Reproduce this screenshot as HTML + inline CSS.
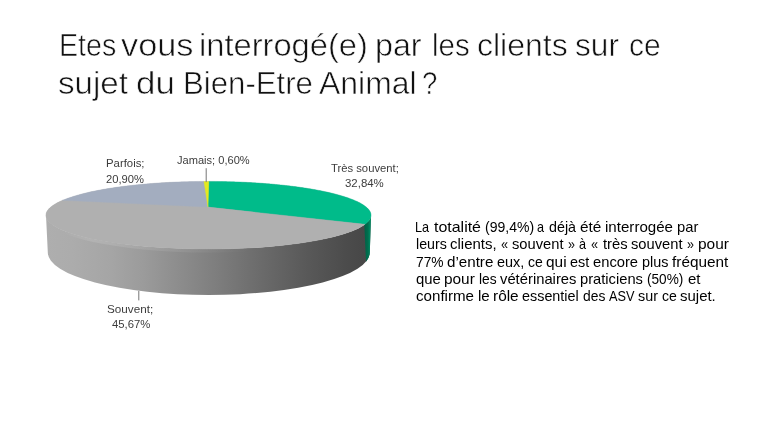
<!DOCTYPE html>
<html lang="fr"><head><meta charset="utf-8"><title>Etes vous interrogé(e) par les clients sur ce sujet du Bien-Etre Animal ?</title>
<style>
html,body{margin:0;padding:0;background:#fff;}
body{width:768px;height:432px;position:relative;overflow:hidden;font-family:'Liberation Sans', sans-serif;}
.g{position:absolute;left:0;top:0;margin:0;padding:0;font-weight:normal;}
.t{position:absolute;white-space:nowrap;transform-origin:0 0;margin:0;padding:0;}
.ti{font-size:31.3px;line-height:37.56px;color:#111;-webkit-text-stroke:0.6px #fff;}
.pa{font-size:14.4px;line-height:17.28px;color:#000;}
.la{font-size:11.5px;line-height:13.8px;color:#3c3c3c;}
</style></head><body>
<svg width="768" height="432" viewBox="0 0 768 432" style="position:absolute;left:0;top:0">
<defs><linearGradient id="gs" gradientUnits="userSpaceOnUse" x1="46" y1="0" x2="371" y2="0"><stop offset="0" stop-color="#aeaeae"/><stop offset="0.08" stop-color="#acacac"/><stop offset="0.2" stop-color="#a5a5a5"/><stop offset="0.3" stop-color="#9b9b9b"/><stop offset="0.39" stop-color="#8f8f8f"/><stop offset="0.53" stop-color="#7d7d7d"/><stop offset="0.66" stop-color="#6b6b6b"/><stop offset="0.8" stop-color="#595959"/><stop offset="0.93" stop-color="#4b4b4b"/><stop offset="1" stop-color="#464646"/></linearGradient><linearGradient id="gg" gradientUnits="userSpaceOnUse" x1="364" y1="0" x2="370.5" y2="0"><stop offset="0" stop-color="#006045"/><stop offset="0.6" stop-color="#006e4e"/><stop offset="1" stop-color="#009066"/></linearGradient><linearGradient id="gh" gradientUnits="userSpaceOnUse" x1="64" y1="0" x2="250" y2="0"><stop offset="0" stop-color="#fff" stop-opacity="0"/><stop offset="0.15" stop-color="#fff" stop-opacity="0.12"/><stop offset="0.6" stop-color="#fff" stop-opacity="0.08"/><stop offset="1" stop-color="#fff" stop-opacity="0"/></linearGradient></defs>
<path d="M46.00,215.20 L47.80,252.40 A161.00,42.60 0 0 0 369.80,252.40 L371.00,215.20 A162.50,33.80 0 0 1 46.00,215.20 Z" fill="url(#gs)"/>
<path d="M64.00,229.70 A162.50,33.80 0 0 0 248.50,248.00" fill="none" stroke="url(#gh)" stroke-width="3" transform="translate(0,2)"/>
<path d="M364.30,224.00 A162.50,33.80 0 0 0 371.00,215.20 L369.80,252.40 A161.00,42.60 0 0 1 366.00,261.70 Z" fill="url(#gg)"/>
<ellipse cx="208.50" cy="215.20" rx="162.50" ry="33.80" fill="#b0b0b0"/>
<path d="M208.00,207.10 L208.78,181.40 210.11,181.40 211.44,181.41 212.78,181.41 214.11,181.42 215.44,181.43 216.78,181.45 218.11,181.46 219.44,181.48 220.77,181.50 222.10,181.53 223.43,181.55 224.76,181.58 226.09,181.61 227.42,181.64 228.75,181.67 230.08,181.71 231.40,181.75 232.73,181.79 234.05,181.83 235.38,181.88 236.70,181.93 238.02,181.98 239.34,182.03 240.65,182.09 241.97,182.14 243.29,182.20 244.60,182.26 245.91,182.33 247.22,182.39 248.53,182.46 249.83,182.53 251.14,182.61 252.44,182.68 253.74,182.76 255.04,182.84 256.33,182.92 257.63,183.01 258.92,183.09 260.21,183.18 261.50,183.28 262.78,183.37 264.06,183.47 265.34,183.56 266.61,183.66 267.89,183.77 269.16,183.87 270.42,183.98 271.69,184.09 272.95,184.20 274.21,184.32 275.46,184.43 276.71,184.55 277.96,184.68 279.20,184.80 280.44,184.93 281.68,185.05 282.91,185.18 284.14,185.32 285.36,185.45 286.58,185.59 287.80,185.73 289.01,185.87 290.22,186.02 291.42,186.17 292.62,186.32 293.82,186.47 295.01,186.62 296.19,186.78 297.37,186.94 298.55,187.10 299.72,187.26 300.88,187.43 302.04,187.59 303.20,187.77 304.34,187.94 305.49,188.11 306.63,188.29 307.76,188.47 308.88,188.65 310.00,188.84 311.12,189.02 312.23,189.21 313.33,189.40 314.42,189.60 315.51,189.79 316.59,189.99 317.67,190.19 318.74,190.40 319.80,190.60 320.85,190.81 321.90,191.02 322.94,191.23 323.98,191.45 325.00,191.66 326.02,191.88 327.03,192.10 328.03,192.33 329.03,192.55 330.01,192.78 330.99,193.01 331.96,193.24 332.93,193.48 333.88,193.72 334.82,193.96 335.76,194.20 336.69,194.44 337.60,194.69 338.51,194.94 339.41,195.19 340.30,195.44 341.18,195.70 342.05,195.96 342.91,196.22 343.76,196.48 344.60,196.74 345.43,197.01 346.25,197.28 347.06,197.55 347.86,197.82 348.65,198.10 349.43,198.38 350.19,198.65 350.95,198.94 351.69,199.22 352.42,199.51 353.14,199.79 353.85,200.08 354.55,200.38 355.23,200.67 355.91,200.97 356.56,201.27 357.21,201.57 357.85,201.87 358.47,202.17 359.08,202.48 359.67,202.79 360.25,203.10 360.82,203.41 361.38,203.72 361.92,204.04 362.44,204.36 362.96,204.68 363.46,205.00 363.94,205.32 364.41,205.65 364.86,205.97 365.31,206.30 365.73,206.63 366.14,206.97 366.53,207.30 366.91,207.64 367.28,207.97 367.62,208.31 367.96,208.65 368.27,208.99 368.57,209.34 368.85,209.68 369.12,210.03 369.37,210.38 369.60,210.73 369.81,211.08 370.01,211.43 370.19,211.78 370.35,212.14 370.50,212.49 370.63,212.85 370.74,213.21 370.83,213.57 370.90,213.93 370.95,214.29 370.99,214.65 371.00,215.02 371.00,215.38 370.98,215.75 370.94,216.11 370.88,216.48 370.80,216.85 370.70,217.22 370.58,217.59 370.44,217.96 370.28,218.33 370.11,218.70 369.91,219.07 369.69,219.44 369.45,219.81 369.18,220.19 368.90,220.56 368.60,220.94 368.27,221.31 367.93,221.68 367.56,222.06 367.18,222.43 366.77,222.81 366.34,223.18 365.88,223.56 365.41,223.93 364.91,224.30Z" fill="#00bb8a" stroke="#00bb8a" stroke-width="0.4"/>
<path d="M208.00,207.10 L364.91,224.30 364.39,224.68 363.85,225.05 363.29,225.43 362.70,225.80 362.09,226.17 361.46,226.55 360.80,226.92 360.13,227.29 359.43,227.66 358.70,228.03 357.96,228.40 357.19,228.77 356.40,229.13 355.59,229.50 354.75,229.86 353.89,230.23 353.01,230.59 352.10,230.95 351.18,231.31 350.22,231.67 349.25,232.02 348.25,232.38 347.23,232.73 346.19,233.08 345.13,233.43 344.04,233.78 342.93,234.12 341.79,234.46 340.64,234.81 339.46,235.14 338.26,235.48 337.03,235.81 335.79,236.14 334.52,236.47 333.23,236.80 331.91,237.12 330.58,237.44 329.22,237.76 327.84,238.07 326.44,238.39 325.02,238.69 323.58,239.00 322.12,239.30 320.63,239.60 319.13,239.90 317.60,240.19 316.06,240.48 314.49,240.76 312.90,241.04 311.30,241.32 309.67,241.59 308.03,241.86 306.36,242.13 304.68,242.39 302.98,242.64 301.26,242.90 299.52,243.15 297.76,243.39 295.99,243.63 294.20,243.87 292.39,244.10 290.56,244.32 288.72,244.55 286.87,244.76 284.99,244.97 283.10,245.18 281.20,245.38 279.28,245.58 277.35,245.77 275.40,245.96 273.44,246.14 271.47,246.32 269.48,246.49 267.48,246.66 265.47,246.82 263.45,246.97 261.41,247.12 259.36,247.27 257.31,247.41 255.24,247.54 253.16,247.67 251.08,247.79 248.98,247.91 246.88,248.02 244.77,248.12 242.65,248.22 240.52,248.32 238.39,248.40 236.25,248.48 234.10,248.56 231.95,248.63 229.79,248.69 227.63,248.75 225.47,248.80 223.30,248.85 221.13,248.89 218.95,248.92 216.78,248.95 214.60,248.97 212.42,248.99 210.24,249.00 208.06,249.00 205.87,249.00 203.69,248.99 201.51,248.97 199.34,248.95 197.16,248.92 194.99,248.89 192.82,248.85 190.65,248.81 188.49,248.75 186.33,248.70 184.17,248.63 182.02,248.56 179.88,248.49 177.74,248.41 175.61,248.32 173.49,248.23 171.37,248.13 169.26,248.02 167.16,247.91 165.07,247.80 162.99,247.68 160.92,247.55 158.85,247.41 156.80,247.28 154.76,247.13 152.73,246.98 150.71,246.83 148.71,246.67 146.71,246.50 144.73,246.33 142.76,246.15 140.81,245.97 138.87,245.78 136.94,245.59 135.03,245.39 133.13,245.19 131.25,244.98 129.38,244.77 127.53,244.56 125.70,244.33 123.88,244.11 122.08,243.88 120.29,243.64 118.53,243.40 116.78,243.16 115.05,242.91 113.34,242.66 111.64,242.40 109.97,242.14 108.31,241.87 106.67,241.61 105.06,241.33 103.46,241.06 101.88,240.77 100.32,240.49 98.78,240.20 97.27,239.91 95.77,239.62 94.29,239.32 92.84,239.01 91.41,238.71 89.99,238.40 88.60,238.09 87.24,237.78 85.89,237.46 84.56,237.14 83.26,236.82 81.98,236.49 80.72,236.16 79.48,235.83 78.27,235.50 77.07,235.16 75.90,234.82 74.76,234.48 73.63,234.14 72.53,233.79 71.45,233.45 70.40,233.10 69.36,232.75 68.35,232.40 67.36,232.04 66.40,231.69 65.46,231.33 64.54,230.97 63.64,230.61 62.77,230.25 61.92,229.88 61.09,229.52 60.29,229.15 59.51,228.79 58.75,228.42 58.01,228.05 57.30,227.68 56.61,227.31 55.94,226.94 55.29,226.57 54.67,226.19 54.07,225.82 53.49,225.45 52.93,225.07 52.40,224.70 51.88,224.32 51.39,223.95 50.93,223.57 50.48,223.20 50.05,222.82 49.65,222.44 49.27,222.07 48.91,221.69 48.57,221.32 48.25,220.94 47.96,220.57 47.68,220.19 47.42,219.82 47.19,219.44 46.98,219.07 46.78,218.70 46.61,218.32 46.46,217.95 46.32,217.58 46.21,217.21 46.12,216.84 46.04,216.47 45.99,216.10 45.95,215.73 45.94,215.37 45.94,215.00 45.96,214.64 46.00,214.27 46.06,213.91 46.14,213.55 46.24,213.19 46.35,212.83 46.48,212.47 46.63,212.11 46.80,211.76 46.99,211.40 47.19,211.05 47.41,210.70 47.64,210.35 47.90,210.00 48.17,209.65 48.45,209.30 48.76,208.96 49.08,208.62 49.41,208.28 49.76,207.94 50.13,207.60 50.51,207.26 50.91,206.93 51.32,206.59 51.75,206.26 52.19,205.93 52.65,205.60 53.12,205.28 53.61,204.95 54.11,204.63 54.62,204.31 55.15,203.99 55.70,203.68 56.25,203.36 56.82,203.05 57.41,202.74 58.00,202.43 58.61,202.12 59.23,201.82 59.87,201.51 60.52,201.21 61.18,200.91 61.85,200.62 62.53,200.32Z" fill="#b0b0b0" stroke="#b0b0b0" stroke-width="0.4"/>
<path d="M208.00,207.10 L62.53,200.32 63.23,200.03 63.94,199.74 64.66,199.45 65.39,199.16 66.13,198.88 66.88,198.60 67.65,198.32 68.43,198.04 69.21,197.76 70.01,197.49 70.82,197.22 71.64,196.95 72.46,196.68 73.30,196.42 74.15,196.15 75.01,195.89 75.88,195.64 76.75,195.38 77.64,195.13 78.54,194.88 79.44,194.63 80.36,194.38 81.28,194.14 82.21,193.89 83.16,193.65 84.10,193.42 85.06,193.18 86.03,192.95 87.00,192.72 87.99,192.49 88.98,192.26 89.98,192.04 90.98,191.82 92.00,191.60 93.02,191.38 94.05,191.17 95.08,190.95 96.13,190.74 97.18,190.54 98.23,190.33 99.30,190.13 100.37,189.93 101.45,189.73 102.53,189.53 103.62,189.34 104.72,189.15 105.82,188.96 106.93,188.77 108.04,188.59 109.16,188.41 110.29,188.23 111.42,188.05 112.56,187.88 113.71,187.70 114.85,187.53 116.01,187.37 117.17,187.20 118.33,187.04 119.50,186.88 120.68,186.72 121.86,186.56 123.04,186.41 124.23,186.26 125.43,186.11 126.62,185.96 127.83,185.82 129.03,185.68 130.25,185.54 131.46,185.40 132.68,185.26 133.91,185.13 135.13,185.00 136.37,184.87 137.60,184.75 138.84,184.62 140.08,184.50 141.33,184.38 142.58,184.27 143.83,184.15 145.09,184.04 146.35,183.93 147.62,183.83 148.88,183.72 150.15,183.62 151.42,183.52 152.70,183.42 153.98,183.33 155.26,183.23 156.54,183.14 157.83,183.05 159.12,182.97 160.41,182.88 161.70,182.80 163.00,182.72 164.30,182.65 165.60,182.57 166.90,182.50 168.20,182.43 169.51,182.36 170.82,182.30 172.13,182.23 173.44,182.17 174.76,182.11 176.07,182.06 177.39,182.00 178.71,181.95 180.03,181.90 181.35,181.86 182.67,181.81 184.00,181.77 185.32,181.73 186.65,181.69 187.98,181.66 189.31,181.62 190.64,181.59 191.97,181.56 193.30,181.54 194.63,181.51 195.97,181.49 197.30,181.47 198.64,181.45 199.97,181.44 201.31,181.43 202.64,181.42 203.98,181.41Z" fill="#a3adbf" stroke="#a3adbf" stroke-width="0.4"/>
<path d="M208.00,207.10 L203.98,181.41 205.18,181.40 206.38,181.40 207.58,181.40 208.78,181.40Z" fill="#e4ea1e" stroke="#e4ea1e" stroke-width="0.4"/>
<path d="M206.2,168.2 V182.1 M138.8,290.9 V300.4" stroke="#767676" stroke-width="1" fill="none"/>
</svg>
<h1 class="g ti">
<span class="t" style="left:58.95px;top:27px;transform:scaleX(0.9135)">Etes</span> 
<span class="t" style="left:121.49px;top:27px;transform:scaleX(1.0953)">vous</span> 
<span class="t" style="left:199.28px;top:27px;transform:scaleX(1.0437)">interrogé(e)</span> 
<span class="t" style="left:374.99px;top:27px;transform:scaleX(1.0299)">par</span> 
<span class="t" style="left:432.19px;top:27px;transform:scaleX(0.9416)">les</span> 
<span class="t" style="left:477.23px;top:27px;transform:scaleX(1.0225)">clients</span> 
<span class="t" style="left:575.09px;top:27px;transform:scaleX(1.0102)">sur</span> 
<span class="t" style="left:629.38px;top:27px;transform:scaleX(0.9550)">ce</span> 
<span class="t" style="left:58.10px;top:65px;transform:scaleX(1.0586)">sujet</span> 
<span class="t" style="left:135.69px;top:65px;transform:scaleX(1.1155)">du</span> 
<span class="t" style="left:182.64px;top:65px;transform:scaleX(0.9962)">Bien-Etre</span> 
<span class="t" style="left:319.15px;top:65px;transform:scaleX(1.0201)">Animal</span> 
<span class="t" style="left:422.40px;top:65px;transform:scaleX(0.8800)">?</span> 
</h1>
<p class="g pa">
<span class="t" style="left:415.40px;top:219px;transform:scaleX(0.8800)">La</span> 
<span class="t" style="left:433.66px;top:219px;transform:scaleX(1.1084)">totalité</span> 
<span class="t" style="left:484.53px;top:219px;transform:scaleX(0.9744)">(99,4%)</span> 
<span class="t" style="left:537.36px;top:219px;transform:scaleX(0.8800)">a</span> 
<span class="t" style="left:548.85px;top:219px;transform:scaleX(0.9933)">déjà</span> 
<span class="t" style="left:580.41px;top:219px;transform:scaleX(1.0693)">été</span> 
<span class="t" style="left:604.95px;top:219px;transform:scaleX(1.0497)">interrogée</span> 
<span class="t" style="left:676.98px;top:219px;transform:scaleX(1.0255)">par</span> 
<span class="t" style="left:415.53px;top:236px;transform:scaleX(0.9914)">leurs</span> 
<span class="t" style="left:450.47px;top:236px;transform:scaleX(1.0405)">clients,</span> 
<span class="t" style="left:500.91px;top:236px;transform:scaleX(0.8800)">«</span> 
<span class="t" style="left:512.14px;top:236px;transform:scaleX(1.0219)">souvent</span> 
<span class="t" style="left:568.22px;top:236px;transform:scaleX(0.8800)">»</span> 
<span class="t" style="left:579.06px;top:236px;transform:scaleX(0.8800)">à</span> 
<span class="t" style="left:591.26px;top:236px;transform:scaleX(0.8800)">«</span> 
<span class="t" style="left:602.68px;top:236px;transform:scaleX(1.0271)">très</span> 
<span class="t" style="left:631.33px;top:236px;transform:scaleX(1.0219)">souvent</span> 
<span class="t" style="left:687.35px;top:236px;transform:scaleX(0.8800)">»</span> 
<span class="t" style="left:698.38px;top:236px;transform:scaleX(1.0745)">pour</span> 
<span class="t" style="left:415.51px;top:254px;transform:scaleX(0.9565)">77%</span> 
<span class="t" style="left:447.25px;top:254px;transform:scaleX(1.0533)">d’entre</span> 
<span class="t" style="left:497.04px;top:254px;transform:scaleX(1.0043)">eux,</span> 
<span class="t" style="left:527.79px;top:254px;transform:scaleX(0.9727)">ce</span> 
<span class="t" style="left:546.31px;top:254px;transform:scaleX(1.0715)">qui</span> 
<span class="t" style="left:570.37px;top:254px;transform:scaleX(1.0011)">est</span> 
<span class="t" style="left:593.38px;top:254px;transform:scaleX(1.0243)">encore</span> 
<span class="t" style="left:641.87px;top:254px;transform:scaleX(0.9992)">plus</span> 
<span class="t" style="left:672.19px;top:254px;transform:scaleX(1.0674)">fréquent</span> 
<span class="t" style="left:415.67px;top:271px;transform:scaleX(1.0358)">que</span> 
<span class="t" style="left:444.34px;top:271px;transform:scaleX(1.0698)">pour</span> 
<span class="t" style="left:479.10px;top:271px;transform:scaleX(0.9580)">les</span> 
<span class="t" style="left:500.17px;top:271px;transform:scaleX(1.0278)">vétérinaires</span> 
<span class="t" style="left:580.24px;top:271px;transform:scaleX(1.0218)">praticiens</span> 
<span class="t" style="left:646.81px;top:271px;transform:scaleX(0.9457)">(50%)</span> 
<span class="t" style="left:687.75px;top:271px;transform:scaleX(1.0423)">et</span> 
<span class="t" style="left:415.65px;top:288px;transform:scaleX(1.0518)">confirme</span> 
<span class="t" style="left:477.79px;top:288px;transform:scaleX(1.0505)">le</span> 
<span class="t" style="left:492.60px;top:288px;transform:scaleX(1.0696)">rôle</span> 
<span class="t" style="left:521.69px;top:288px;transform:scaleX(0.9992)">essentiel</span> 
<span class="t" style="left:582.67px;top:288px;transform:scaleX(0.9628)">des</span> 
<span class="t" style="left:608.77px;top:288px;transform:scaleX(0.8845)">ASV</span> 
<span class="t" style="left:637.94px;top:288px;transform:scaleX(0.9974)">sur</span> 
<span class="t" style="left:661.64px;top:288px;transform:scaleX(0.9800)">ce</span> 
<span class="t" style="left:680.19px;top:288px;transform:scaleX(1.0398)">sujet.</span> 
</p>
<div class="g la">
<span class="t" style="left:105.66px;top:157px;transform:scaleX(0.9880)">Parfois;</span> 
<span class="t" style="left:106.01px;top:173px;transform:scaleX(0.9737)">20,90%</span> 
<span class="t" style="left:176.96px;top:154px;transform:scaleX(0.9632)">Jamais; 0,60%</span> 
<span class="t" style="left:331.26px;top:162px;transform:scaleX(0.9794)">Très souvent;</span> 
<span class="t" style="left:344.72px;top:177px;transform:scaleX(0.9945)">32,84%</span> 
<span class="t" style="left:107.49px;top:303px;transform:scaleX(1.0172)">Souvent;</span> 
<span class="t" style="left:112.07px;top:318px;transform:scaleX(0.9840)">45,67%</span> 
</div>
</body></html>
